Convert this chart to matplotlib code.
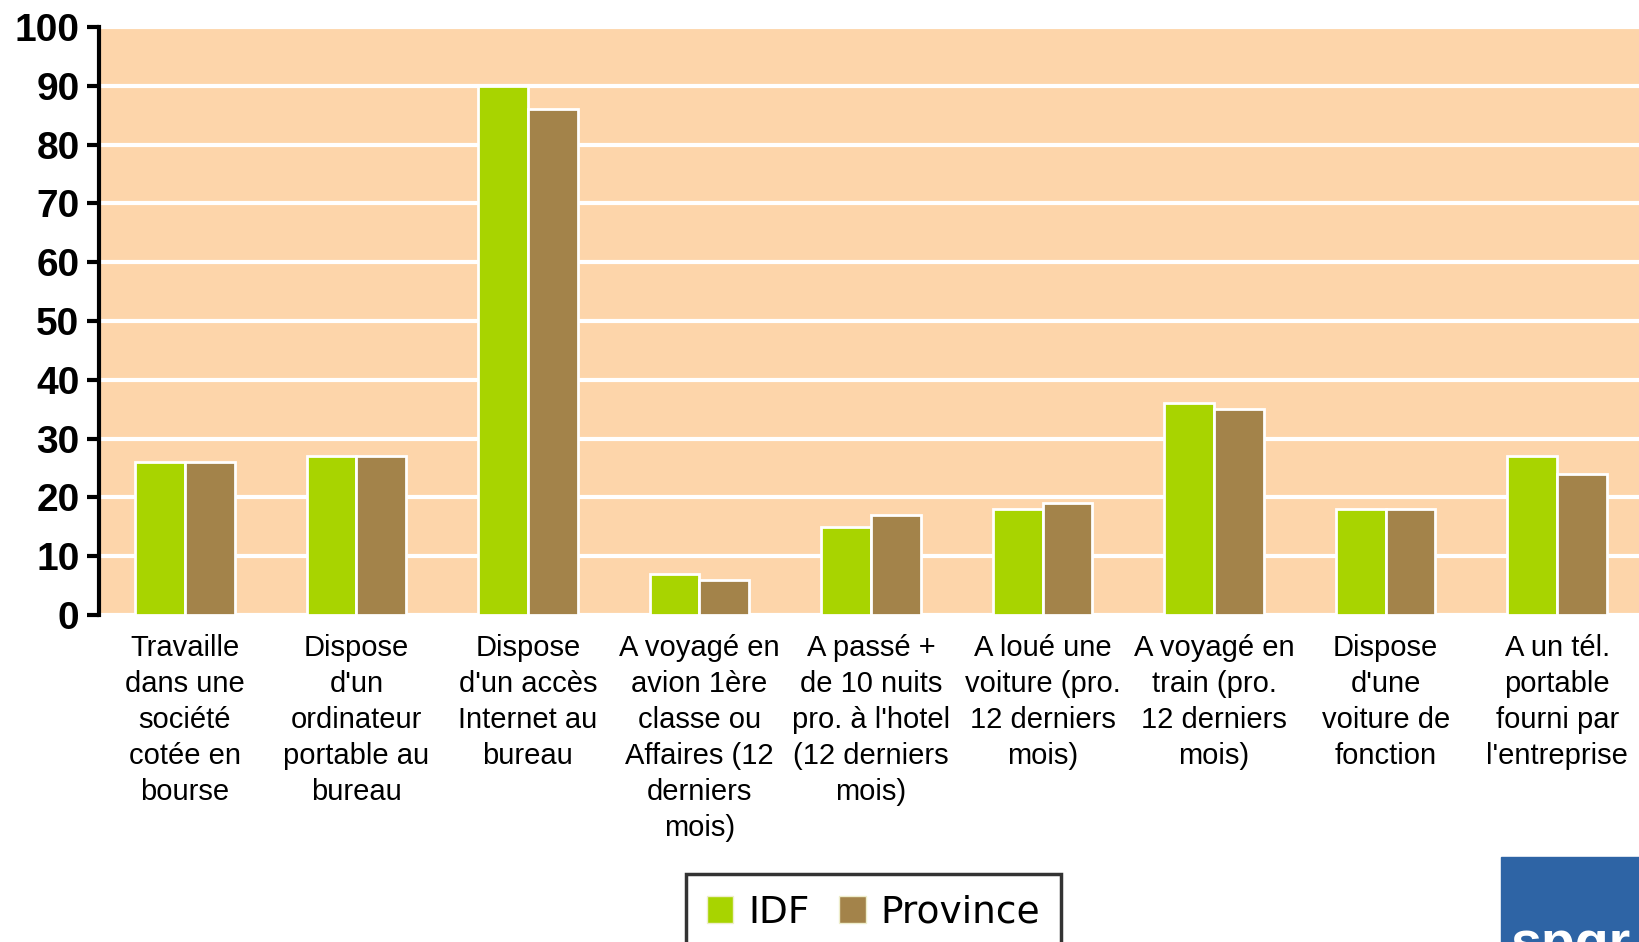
import matplotlib
matplotlib.use("Agg")
import matplotlib.pyplot as plt
import numpy as np
from matplotlib.patches import Rectangle

# data
categories = [
    "Travaille\ndans une\nsociété\ncotée en\nbourse",
    "Dispose\nd'un\nordinateur\nportable au\nbureau",
    "Dispose\nd'un accès\nInternet au\nbureau",
    "A voyagé en\navion 1ère\nclasse ou\nAffaires (12\nderniers\nmois)",
    "A passé +\nde 10 nuits\npro. à l'hotel\n(12 derniers\nmois)",
    "A loué une\nvoiture (pro.\n12 derniers\nmois)",
    "A voyagé en\ntrain (pro.\n12 derniers\nmois)",
    "Dispose\nd'une\nvoiture de\nfonction",
    "A un tél.\nportable\nfourni par\nl'entreprise",
]
idf = [26, 27, 90, 7, 15, 18, 36, 18, 27]
province = [26, 27, 86, 6, 17, 19, 35, 18, 24]
y_ticks = [0, 10, 20, 30, 40, 50, 60, 70, 80, 90, 100]

W, H = 1639, 942
fig = plt.figure(figsize=(W / 100, H / 100), dpi=100)
ax = fig.add_axes([99 / W, (H - 615) / H, (1643 - 99) / W, (615 - 27) / H])
ax.set_facecolor("#FDD5AA")

x = np.arange(len(categories))
w = 0.29
ax.bar(x - w / 2, idf, w, color="#A8D400", edgecolor="white", linewidth=2, label="IDF", zorder=3)
ax.bar(x + w / 2, province, w, color="#A3834A", edgecolor="white", linewidth=2, label="Province", zorder=3)

ax.set_xlim(-0.5, len(categories) - 0.5)
ax.set_ylim(0, 100)
ax.set_yticks(y_ticks)
ax.yaxis.grid(True, color="white", linewidth=3, zorder=1)
ax.set_axisbelow(True)

for s in ["top", "right", "bottom"]:
    ax.spines[s].set_visible(False)
ax.spines["left"].set_linewidth(3)
ax.tick_params(axis="y", direction="out", length=9, width=3, pad=5)
for lab in ax.get_yticklabels():
    lab.set_fontfamily("Liberation Sans")
    lab.set_fontweight("bold")
    lab.set_fontsize(28)

ax.set_xticks(x)
ax.set_xticklabels(categories, fontfamily="Liberation Sans", fontsize=21,
                   linespacing=1.36, va="top", ha="center")
ax.tick_params(axis="x", length=0, pad=14)

leg = fig.legend(loc="upper left", bbox_to_anchor=(686 / W, 1 - 874 / H),
                 ncol=2, frameon=True, fancybox=False, edgecolor="black",
                 prop={"family": "DejaVu Sans", "size": 27},
                 handlelength=0.7, handleheight=0.7, handletextpad=0.4,
                 columnspacing=0.8, borderpad=0.55, borderaxespad=0)
leg.get_frame().set_linewidth(2.5)
for h in leg.legend_handles:
    h.set_edgecolor("#EEEECC")
    h.set_linewidth(1)

# logo corner
fig.patches.append(Rectangle((1501 / W, 0), 1, (942 - 857) / H, transform=fig.transFigure,
                             color="#2E64A5", zorder=5))
fig.text(1510 / W, -18 / H, "spqr", color="white", fontsize=40, fontweight="bold",
         fontfamily="Liberation Sans", zorder=6)

fig.savefig("out.png", dpi=100)
